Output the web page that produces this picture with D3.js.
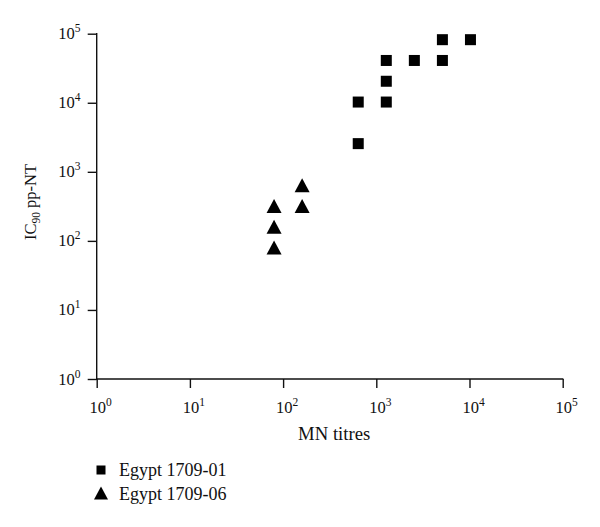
<!DOCTYPE html>
<html>
<head>
<meta charset="utf-8">
<script src="https://cdn.jsdelivr.net/npm/d3@7"></script>
<style>
  html, body { margin: 0; padding: 0; background: #fff; }
  svg { display: block; font-family: "Liberation Serif", "Times New Roman", serif; }
</style>
</head>
<body>
<svg id="chart" width="600" height="527"></svg>
<script>
// ---- data ----
const seriesNames = ["Egypt 1709-01", "Egypt 1709-06"];
const egypt01_MN = [640, 640, 1280, 1280, 1280, 2560, 5120, 5120, 10240];
const egypt01_IC90 = [2560, 10240, 10240, 20480, 40960, 40960, 40960, 81920, 81920];
const egypt06_MN = [80, 80, 80, 160, 160];
const egypt06_IC90 = [80, 160, 320, 320, 640];
const tickExponents = [0, 1, 2, 3, 4, 5];
const xTitle = "MN titres";

(function () {
// ---- layout ----
const svg = d3.select("#chart");
const mLeft = 96.7, mRight = 562.7, mTop = 33.7, mBottom = 379;
const x = d3.scaleLog().domain([1, 1e5]).range([mLeft, mRight]);
const y = d3.scaleLog().domain([1, 1e5]).range([mBottom, mTop]);
const tickVals = tickExponents.map(e => Math.pow(10, e));

const g = svg.append("g");

// axes
const xAxis = g.append("g").attr("transform", `translate(0,${mBottom})`)
  .call(d3.axisBottom(x).tickValues(tickVals).tickSize(9).tickFormat(""));
const yAxis = g.append("g").attr("transform", `translate(${mLeft},0)`)
  .call(d3.axisLeft(y).tickValues(tickVals).tickSize(9).tickFormat(""));
xAxis.select(".domain").attr("d", `M${mLeft - 0.7},0H${mRight + 0.7}`);
yAxis.select(".domain").attr("d", `M0,${mTop - 0.7}V${mBottom + 0.7}`);
[xAxis, yAxis].forEach(a => {
  a.select(".domain").attr("stroke", "#111").attr("stroke-width", 1.4);
  a.selectAll(".tick line").attr("stroke", "#111").attr("stroke-width", 1.4);
});

// tick labels with superscripts
function powLabel(sel, e) {
  sel.append("tspan").text("10");
  sel.append("tspan").attr("dy", -7).attr("font-size", 11.5).text(String(e));
}
tickExponents.forEach(e => {
  const t = g.append("text")
    .attr("x", x(Math.pow(10, e)) + 4)
    .attr("y", 412.5)
    .attr("text-anchor", "middle")
    .attr("font-size", 16.5)
    .attr("fill", "#111");
  powLabel(t, e);
});
tickExponents.forEach(e => {
  const t = g.append("text")
    .attr("x", 80.5)
    .attr("y", y(Math.pow(10, e)) + 5.5)
    .attr("text-anchor", "end")
    .attr("font-size", 16.5)
    .attr("fill", "#111");
  powLabel(t, e);
});

// axis titles
g.append("text")
  .attr("x", (mLeft + mRight) / 2 + 4.5)
  .attr("y", 440)
  .attr("text-anchor", "middle")
  .attr("font-size", 18.7)
  .attr("fill", "#111")
  .text(xTitle);

const yt = g.append("text")
  .attr("transform", `translate(36,202) rotate(-90)`)
  .attr("text-anchor", "middle")
  .attr("font-size", 16.5)
  .attr("fill", "#111");
yt.append("tspan").text("IC");
yt.append("tspan").attr("dy", 4).attr("font-size", 11.5).text("90");
yt.append("tspan").attr("dy", -4).text(" pp-NT");

// markers
const sq = 11;
const d01 = egypt01_MN.map((v, i) => ({ mn: v, ic: egypt01_IC90[i] }));
const d06 = egypt06_MN.map((v, i) => ({ mn: v, ic: egypt06_IC90[i] }));

g.append("g").selectAll("rect").data(d01).join("rect")
  .attr("x", d => x(d.mn) - sq / 2)
  .attr("y", d => y(d.ic) - sq / 2)
  .attr("width", sq).attr("height", sq)
  .attr("fill", "#000");

const tri = (cx, cy, w, h) => `M${cx},${cy - h / 2}L${cx + w / 2},${cy + h / 2}L${cx - w / 2},${cy + h / 2}Z`;
g.append("g").selectAll("path").data(d06).join("path")
  .attr("d", d => tri(x(d.mn), y(d.ic), 15, 14))
  .attr("fill", "#000");

// legend
const lg = g.append("g");
lg.append("rect").attr("x", 101 - 4.5).attr("y", 470 - 4.5).attr("width", 9).attr("height", 9).attr("fill", "#000");
lg.append("path").attr("d", tri(101, 493, 14, 13)).attr("fill", "#000");
lg.append("text").attr("x", 119).attr("y", 476).attr("font-size", 18).attr("fill", "#111").text(seriesNames[0]);
lg.append("text").attr("x", 119).attr("y", 499.5).attr("font-size", 18).attr("fill", "#111").text(seriesNames[1]);
})();
</script>
</body>
</html>
